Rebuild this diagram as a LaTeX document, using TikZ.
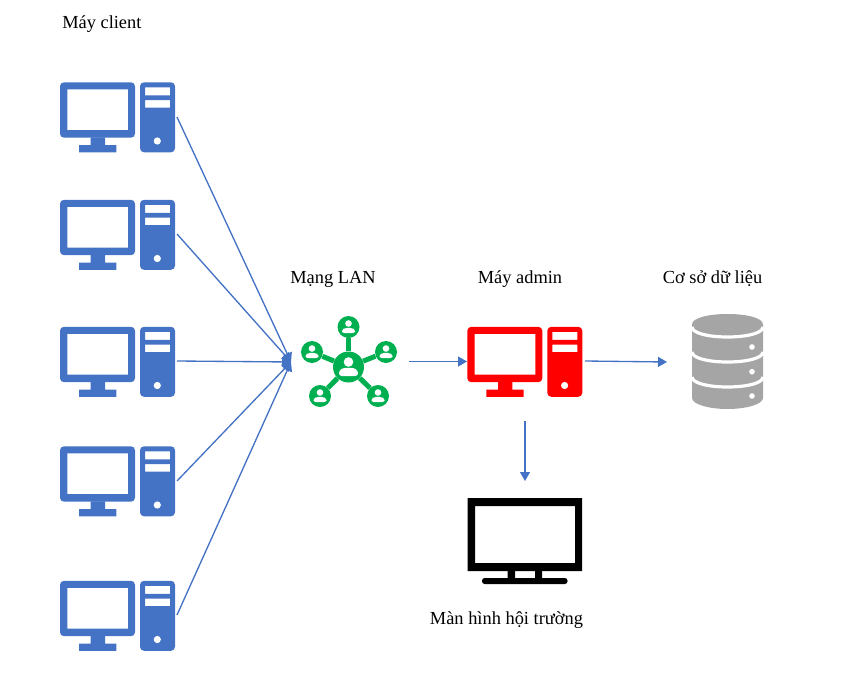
\documentclass[tikz,border=0pt]{standalone}
\usepackage{fontspec}
\setmainfont{Liberation Serif}
\usetikzlibrary{arrows.meta}
\definecolor{pcblue}{HTML}{4472C4}
\definecolor{lan}{HTML}{00B050}
\definecolor{dbgray}{HTML}{A5A5A5}
\tikzset{
  x=0.75pt,y=-0.75pt,
  lbl/.style={font=\fontsize{13.8}{16}\selectfont,inner sep=0pt,text=black},
  conn/.style={draw=pcblue,line width=1pt,-{Triangle[length=6.75pt,width=7.5pt]}},
  sat/.style={circle,fill=lan,minimum size=16.5pt,inner sep=0pt},
  tierline/.style={draw=white,line width=2.4pt},
  computer/.pic={
    \fill[pic actions,rounded corners=3pt,even odd rule] (0,0) rectangle (75,55.4) [sharp corners] (7.3,7) rectangle (68,47.7);
    \fill[pic actions] (30.7,55) rectangle (45,63) (19,62.7) rectangle (56.3,70);
    \fill[pic actions,rounded corners=3pt,even odd rule] (80,0) rectangle (115,70) [sharp corners] (85,5) rectangle (110,13) (85,17.7) rectangle (110,25.4);
    \fill[white] (97.3,58.7) circle (3.6);
  },
  person/.pic={
    \fill[white] (0,-3.5) circle (3.3);
    \fill[white,rounded corners=1.6pt] (-6.5,6) -- (-6.5,2.8) -- (-3.5,0.8) -- (3.5,0.8) -- (6.5,2.8) -- (6.5,6) -- cycle;
  },
  bigperson/.pic={
    \fill[white] (0,-5) circle (4.8);
    \fill[white,rounded corners=2pt] (-9.5,9) -- (-9.5,3.5) -- (-5,0.8) -- (5,0.8) -- (9.5,3.5) -- (9.5,9) -- cycle;
  }
}
\begin{document}
\begin{tikzpicture}
\useasboundingbox (0,0) rectangle (843,678);
% computers
\pic[fill=pcblue] at (60,82.3) {computer};
\pic[fill=pcblue] at (60,199.8) {computer};
\pic[fill=pcblue] at (60,326.8) {computer};
\pic[fill=pcblue] at (60,446.3) {computer};
\pic[fill=pcblue] at (60,580.8) {computer};
\pic[fill=red] at (467.3,326.8) {computer};
% LAN
\node[circle,fill=lan,minimum size=23.25pt,inner sep=0pt] (hubc) at (348.5,367) {};
\node[sat] (s1) at (348.5,327) {};
\node[sat] (s2) at (312,352) {};
\node[sat] (s3) at (386,352) {};
\node[sat] (s4) at (320,396) {};
\node[sat] (s5) at (378,396) {};
\foreach \s in {s1,s2,s3,s4,s5}{
  \draw[lan,line width=3.75pt] (hubc) -- (\s);
  \pic at (\s) {person};
}
\pic at (hubc) {bigperson};
% database
\fill[dbgray] (692,324.5) .. controls (692,318) and (708,314) .. (727.5,314) .. controls (747,314) and (763,318) .. (763,324.5)
  -- (763,398) .. controls (763,404) and (747,409) .. (727.5,409) .. controls (708,409) and (692,404) .. (692,398) -- cycle;
\draw[tierline] (692,327) .. controls (692,333) and (708,337) .. (727.5,337) .. controls (747,337) and (763,333) .. (763,327);
\draw[tierline] (692,352) .. controls (692,358) and (708,362) .. (727.5,362) .. controls (747,362) and (763,358) .. (763,352);
\draw[tierline] (692,377) .. controls (692,383) and (708,387) .. (727.5,387) .. controls (747,387) and (763,383) .. (763,377);
\fill[white] (752,347) circle (2.8) (752,371.7) circle (2.8) (752,396) circle (2.8);
% screen
\fill[even odd rule] (467.7,498) rectangle (582,571) (475,506) rectangle (575,563);
\fill (507.7,570) rectangle (515,579) (535,570) rectangle (542,579);
\fill[rounded corners=2pt] (482,578) rectangle (567.5,584);
% connector ends
\coordinate (c1) at (177,117);
\coordinate (c2) at (177,234);
\coordinate (c3) at (177,361);
\coordinate (c4) at (177,481);
\coordinate (c5) at (177,615);
\coordinate (hub) at (291,362);
\coordinate (lanout) at (409,361.5);
\coordinate (admin) at (467,361.5);
\coordinate (adminout) at (585,361);
\coordinate (db) at (667,362);
\coordinate (admindown) at (525,421);
\coordinate (screen) at (525,481);
\foreach \c in {c1,c2,c3,c4,c5}{ \draw[conn] (\c) -- (hub); }
\draw[conn] (lanout) -- (admin);
\draw[conn] (adminout) -- (db);
\draw[conn] (admindown) -- (screen);
% labels
\node[lbl,anchor=base west] (l1) at (62,28) {Máy client};
\node[lbl,anchor=base] (l2) at (333,283) {Mạng LAN};
\node[lbl,anchor=base] (l3) at (520,283) {Máy admin};
\node[lbl,anchor=base] (l4) at (712.5,283) {Cơ sở dữ liệu};
\node[lbl,anchor=base] (l5) at (506.5,624) {Màn hình hội trường};
\end{tikzpicture}
\end{document}
